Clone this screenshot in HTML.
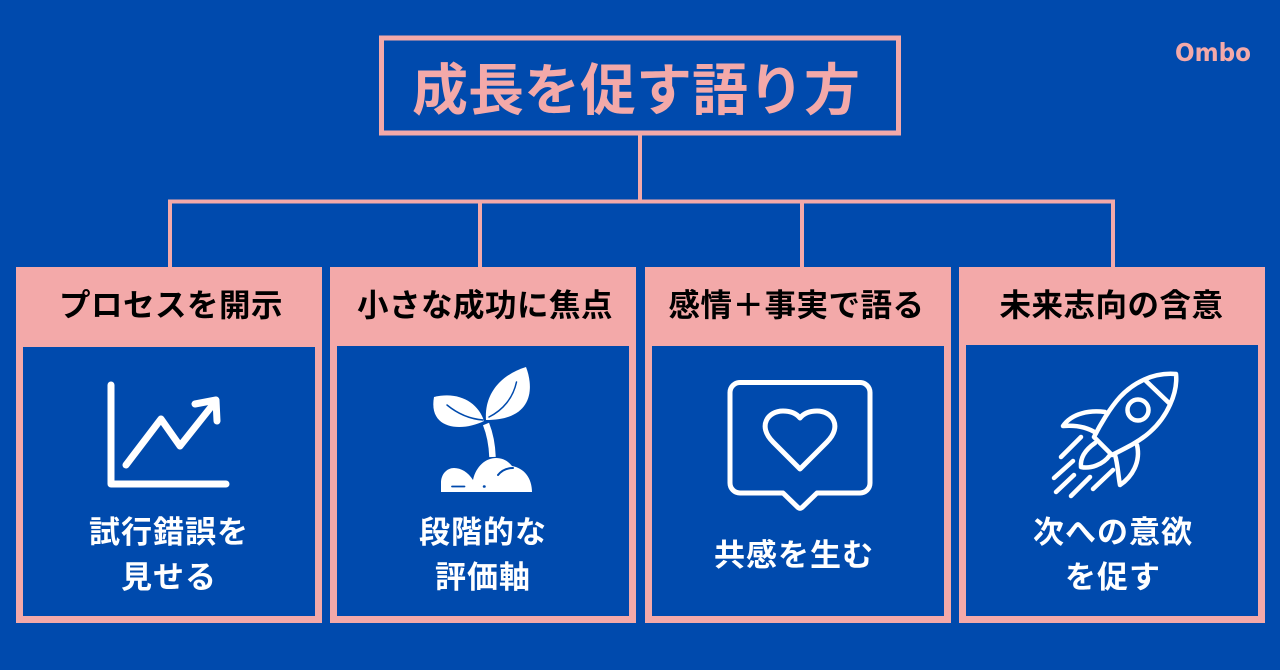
<!DOCTYPE html>
<html lang="ja">
<head>
<meta charset="utf-8">
<title>成長を促す語り方</title>
<style>
html,body{margin:0;padding:0;background:#004aad;width:1280px;height:670px;overflow:hidden}
svg{display:block}
text{font-family:"Liberation Sans","Noto Sans CJK JP",sans-serif;font-weight:700}
.h{font-size:31.5px;letter-spacing:.5px;fill:#000}
.b{font-size:31px;letter-spacing:1px;fill:#fff}
.i{fill:none;stroke:#fff;stroke-linecap:round;stroke-linejoin:round}
</style>
</head>
<body>
<svg width="1280" height="670" viewBox="0 0 1280 670" xmlns="http://www.w3.org/2000/svg">
<rect width="1280" height="670" fill="#004aad"/>

<!-- connectors -->
<g fill="#f3a9a9">
<rect x="638" y="135" width="4" height="66"/>
<rect x="168" y="199.500" width="947" height="4"/>
<rect x="168" y="199.500" width="4" height="70"/>
<rect x="478" y="199.500" width="4" height="70"/>
<rect x="800" y="199.500" width="4" height="70"/>
<rect x="1111" y="199.500" width="4" height="70"/>
</g>

<!-- title -->
<rect x="381.500" y="38" width="517" height="95" fill="none" stroke="#f3a9a9" stroke-width="5"/>
<text x="412" y="110" fill="#f3a9a9" style="font-size:56px">成長を促す語り方</text>

<!-- logo -->
<text x="1175" y="61" textLength="76" lengthAdjust="spacingAndGlyphs" fill="#f3a9a9" style="font-size:25px;font-family:'DejaVu Sans',sans-serif">Ombo</text>

<!-- cards -->
<g fill="#f3a9a9">
<rect x="16" y="267" width="306" height="356"/>
<rect x="330" y="267" width="306" height="356"/>
<rect x="645" y="267" width="306" height="356"/>
<rect x="959" y="267" width="306" height="356"/>
</g>
<g fill="#004aad">
<rect x="23" y="347" width="292" height="269"/>
<rect x="337" y="346" width="292" height="270"/>
<rect x="652" y="346" width="292" height="270"/>
<rect x="966" y="345" width="292" height="271"/>
</g>

<!-- headers -->
<text class="h" x="59" y="316">プロセスを開示</text>
<text class="h" x="357" y="316">小さな成功に焦点</text>
<text class="h" x="668.500" y="316">感情＋事実で語る</text>
<text class="h" x="999.500" y="316">未来志向の含意</text>

<!-- body -->
<text class="b" x="89" y="543">試行錯誤を</text>
<text class="b" x="121" y="588">見せる</text>
<text class="b" x="419" y="543">段階的な</text>
<text class="b" x="435" y="588">評価軸</text>
<text class="b" x="714" y="566">共感を生む</text>
<text class="b" x="1033" y="543">次への意欲</text>
<text class="b" x="1065" y="588">を促す</text>

<!-- chart icon -->
<path class="i" stroke-width="7" d="M111,385V484H226"/>
<path class="i" stroke-width="7" d="M126,465L161,419L180,446L215,402"/>
<path class="i" stroke-width="7" d="M195,404L216,400L217,421"/>

<!-- sprout icon -->
<path fill="#fff" d="M486,420C484,392 503,374 526,367C533,385 536,420 486,420Z"/>
<path fill="#fff" d="M434,397C458,391 478,402 484,421C462,432 428,430 434,397Z"/>
<path fill="none" stroke="#004aad" stroke-width="1.500" stroke-linecap="round" d="M489,417C503,410 513,398 516.500,382"/>
<path fill="none" stroke="#004aad" stroke-width="1.500" stroke-linecap="round" d="M447,405C458,414 470,419 483,420"/>
<path fill="none" stroke="#fff" stroke-width="6.500" d="M486,424C490,434 492,444 492.500,457"/>
<path fill="#fff" d="M441,492V483C441,474 447,468 454,468C461,468 468,472 473,480C476,466 486,458 496,458C503,458 508,461 512,466C524,468 532,478 532,492Z"/>
<g fill="none" stroke="#004aad" stroke-linecap="round">
<path stroke-width="1.800" d="M452,486.500H464.500"/>
<path stroke-width="2.500" d="M484,486.500H484.500"/>
<path stroke-width="2" d="M498,475C502,470 507,468 513,468"/>
</g>

<!-- heart bubble icon -->
<path class="i" stroke-width="5" d="M740,382.500H860A10,10 0 0 1 870,392.500V483A10,10 0 0 1 860,493H817L802,507.500Q800,509 798,507.500L783,493H740A10,10 0 0 1 730,483V392.500A10,10 0 0 1 740,382.500Z"/>
<path class="i" stroke-width="5" d="M800,469L773,442C757,426 768,411 783,411C790,411 796,413 800,418C804,413 810,411 817,411C832,411 843,426 827,442Z"/>

<!-- rocket icon -->
<g class="i" stroke-width="4.500">
<path d="M1176,374C1153,372 1133,383 1120,397C1110,408 1100,425 1094,437L1112,455C1128,447 1140,441 1150,432C1167,417 1178,393 1176,374Z"/>
<path d="M1145,380L1169,403"/>
<circle cx="1138" cy="410" r="10.500"/>
<path d="M1105,412C1090,410 1072,413 1063,426C1075,425 1087,427 1096,433"/>
<path d="M1115,455C1118,465 1118,475 1120,485C1132,477 1141,462 1137,445"/>
<path d="M1095,443C1085,450 1080,458 1081,467C1090,469 1103,465 1110,455"/>
<path d="M1081,437L1061,457"/>
<path d="M1073,461L1054,478"/>
<path d="M1074,475L1056,492"/>
<path d="M1090,477L1071,496"/>
<path d="M1113,470L1093,489"/>
</g>
</svg>
</body>
</html>
